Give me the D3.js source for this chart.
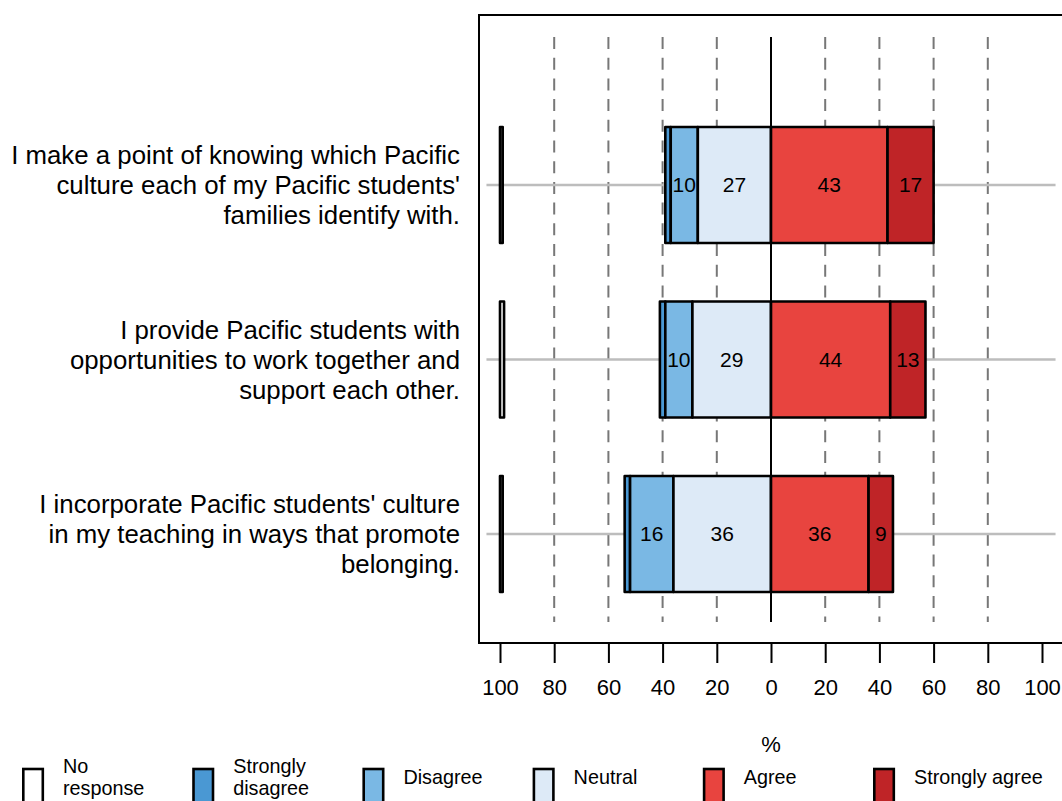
<!DOCTYPE html>
<html>
<head>
<meta charset="utf-8">
<script src="https://cdn.jsdelivr.net/npm/d3@7"></script>
<style>
  html, body { margin: 0; padding: 0; background: #fff; }
  svg { display: block; font-family: "Liberation Sans", Arial, sans-serif; }
</style>
</head>
<body>
<svg id="chart" width="1062" height="801"></svg>
<script>
// ---- data ----
const categories = [
  ["I make a point of knowing which Pacific", "culture each of my Pacific students'", "families identify with."],
  ["I provide Pacific students with", "opportunities to work together and", "support each other."],
  ["I incorporate Pacific students' culture", "in my teaching in ways that promote", "belonging."]
];
const noResponse = [1, 1.5, 1];
const stronglyDisagree = [2, 2, 2];
const disagree = [10, 10, 16];
const neutral = [27, 29, 36];
const agree = [43, 44, 36];
const stronglyAgree = [17, 13, 9];
const tickValues = [-100, -80, -60, -40, -20, 0, 20, 40, 60, 80, 100];
const gridValues = [-80, -60, -40, -20, 20, 40, 60, 80];
const legendLabels = [["No", "response"], ["Strongly", "disagree"], ["Disagree"], ["Neutral"], ["Agree"], ["Strongly agree"]];
const legendColors = ["#ffffff", "#4a98d3", "#7ab8e4", "#ddeaf7", "#e8443f", "#bf2427"];
const xTitle = "%";

// ---- layout ----
const svg = d3.select("#chart");
const x = d3.scaleLinear().domain([-100, 100]).range([500, 1042]);
const rowIdx = categories.map((d, i) => i);
const y = d3.scaleBand().domain(rowIdx).range([97.75, 621.25]).paddingInner(0.335).paddingOuter(0.1675);
const boxTop = 15, boxBottom = 643, boxLeft = 479;

// plot frame
svg.append("path")
  .attr("d", `M1070,${boxTop} L${boxLeft},${boxTop} L${boxLeft},${boxBottom} L1070,${boxBottom}`)
  .attr("fill", "none").attr("stroke", "#000").attr("stroke-width", 2);

// grid lines
svg.append("g").selectAll("line").data(gridValues).join("line")
  .attr("x1", d => x(d)).attr("x2", d => x(d))
  .attr("y1", 37).attr("y2", 622)
  .attr("stroke", "#777").attr("stroke-width", 2)
  .attr("stroke-dasharray", "12,8.7");
svg.append("line")
  .attr("x1", x(0)).attr("x2", x(0)).attr("y1", 37).attr("y2", 622)
  .attr("stroke", "#000").attr("stroke-width", 2);

// row guide lines
svg.append("g").selectAll("line").data(rowIdx).join("line")
  .attr("x1", x(-105)).attr("x2", x(105))
  .attr("y1", i => y(i) + y.bandwidth() / 2).attr("y2", i => y(i) + y.bandwidth() / 2)
  .attr("stroke", "#bdbdbd").attr("stroke-width", 2.5);

// build segments
const segs = [];
rowIdx.forEach(i => {
  const n = neutral[i], dd = disagree[i], sd = stronglyDisagree[i], a = agree[i], sa = stronglyAgree[i];
  segs.push({row: i, x0: -(n + dd + sd), x1: -(n + dd), v: sd, c: legendColors[1]});
  segs.push({row: i, x0: -(n + dd), x1: -n, v: dd, c: legendColors[2]});
  segs.push({row: i, x0: -n, x1: 0, v: n, c: legendColors[3]});
  segs.push({row: i, x0: 0, x1: a, v: a, c: legendColors[4]});
  segs.push({row: i, x0: a, x1: a + sa, v: sa, c: legendColors[5]});
});

const g = svg.append("g");
g.selectAll("rect.seg").data(segs).join("rect")
  .attr("class", "seg")
  .attr("x", d => x(d.x0)).attr("width", d => x(d.x1) - x(d.x0))
  .attr("y", d => y(d.row)).attr("height", y.bandwidth())
  .attr("fill", d => d.c).attr("stroke", "#000").attr("stroke-width", 2.6)
  .attr("stroke-linejoin", "round");

// no response bars
g.selectAll("rect.nr").data(rowIdx).join("rect")
  .attr("class", "nr")
  .attr("x", x(-100)).attr("width", i => x(-100 + noResponse[i]) - x(-100))
  .attr("y", i => y(i)).attr("height", y.bandwidth())
  .attr("fill", legendColors[0]).attr("stroke", "#000").attr("stroke-width", 2.6)
  .attr("stroke-linejoin", "round");

// value labels
g.selectAll("text.val").data(segs.filter(d => d.v >= 5)).join("text")
  .attr("class", "val")
  .attr("x", d => (x(d.x0) + x(d.x1)) / 2)
  .attr("y", d => y(d.row) + y.bandwidth() / 2)
  .attr("dy", "0.35em")
  .attr("text-anchor", "middle").attr("font-size", 21).attr("fill", "#000")
  .text(d => Math.round(d.v));

// y labels
const yl = svg.append("g").selectAll("text").data(rowIdx).join("text")
  .attr("text-anchor", "end").attr("font-size", 25.8).attr("fill", "#000");
yl.each(function(i) {
  const lines = categories[i];
  const cy = y(i) + y.bandwidth() / 2;
  d3.select(this).selectAll("tspan").data(lines).join("tspan")
    .attr("x", 460)
    .attr("y", (t, k) => cy + (k - (lines.length - 1) / 2) * 30 + 9)
    .text(t => t);
});

// x axis
const axis = d3.axisBottom(x).tickValues(tickValues).tickSize(20).tickPadding(16)
  .tickFormat(d => Math.abs(d));
const ax = svg.append("g").attr("transform", `translate(0,${boxBottom})`).call(axis);
ax.select(".domain").remove();
ax.selectAll(".tick line").attr("stroke", "#000").attr("stroke-width", 2);
ax.selectAll(".tick text").attr("font-size", 22).attr("fill", "#000")
  .attr("font-family", "Liberation Sans, Arial, sans-serif");

svg.append("text").attr("x", x(0)).attr("y", 752).attr("text-anchor", "middle")
  .attr("font-size", 22).attr("fill", "#000").text(xTitle);

// legend
const lg = svg.append("g").selectAll("g").data(legendLabels).join("g")
  .attr("transform", (d, i) => `translate(${22 + 170.2 * i},0)`);
lg.append("rect").attr("x", 1.3).attr("y", 769).attr("width", 19.5).attr("height", 45)
  .attr("fill", (d, i) => legendColors[i]).attr("stroke", "#000").attr("stroke-width", 2.6);
lg.append("text").attr("font-size", 19.8).attr("fill", "#000")
  .each(function(lines) {
    d3.select(this).selectAll("tspan").data(lines).join("tspan")
      .attr("x", 41)
      .attr("y", (t, k) => 784 + (k - (lines.length - 1) / 2) * 22)
      .text(t => t);
  });
</script>
</body>
</html>
